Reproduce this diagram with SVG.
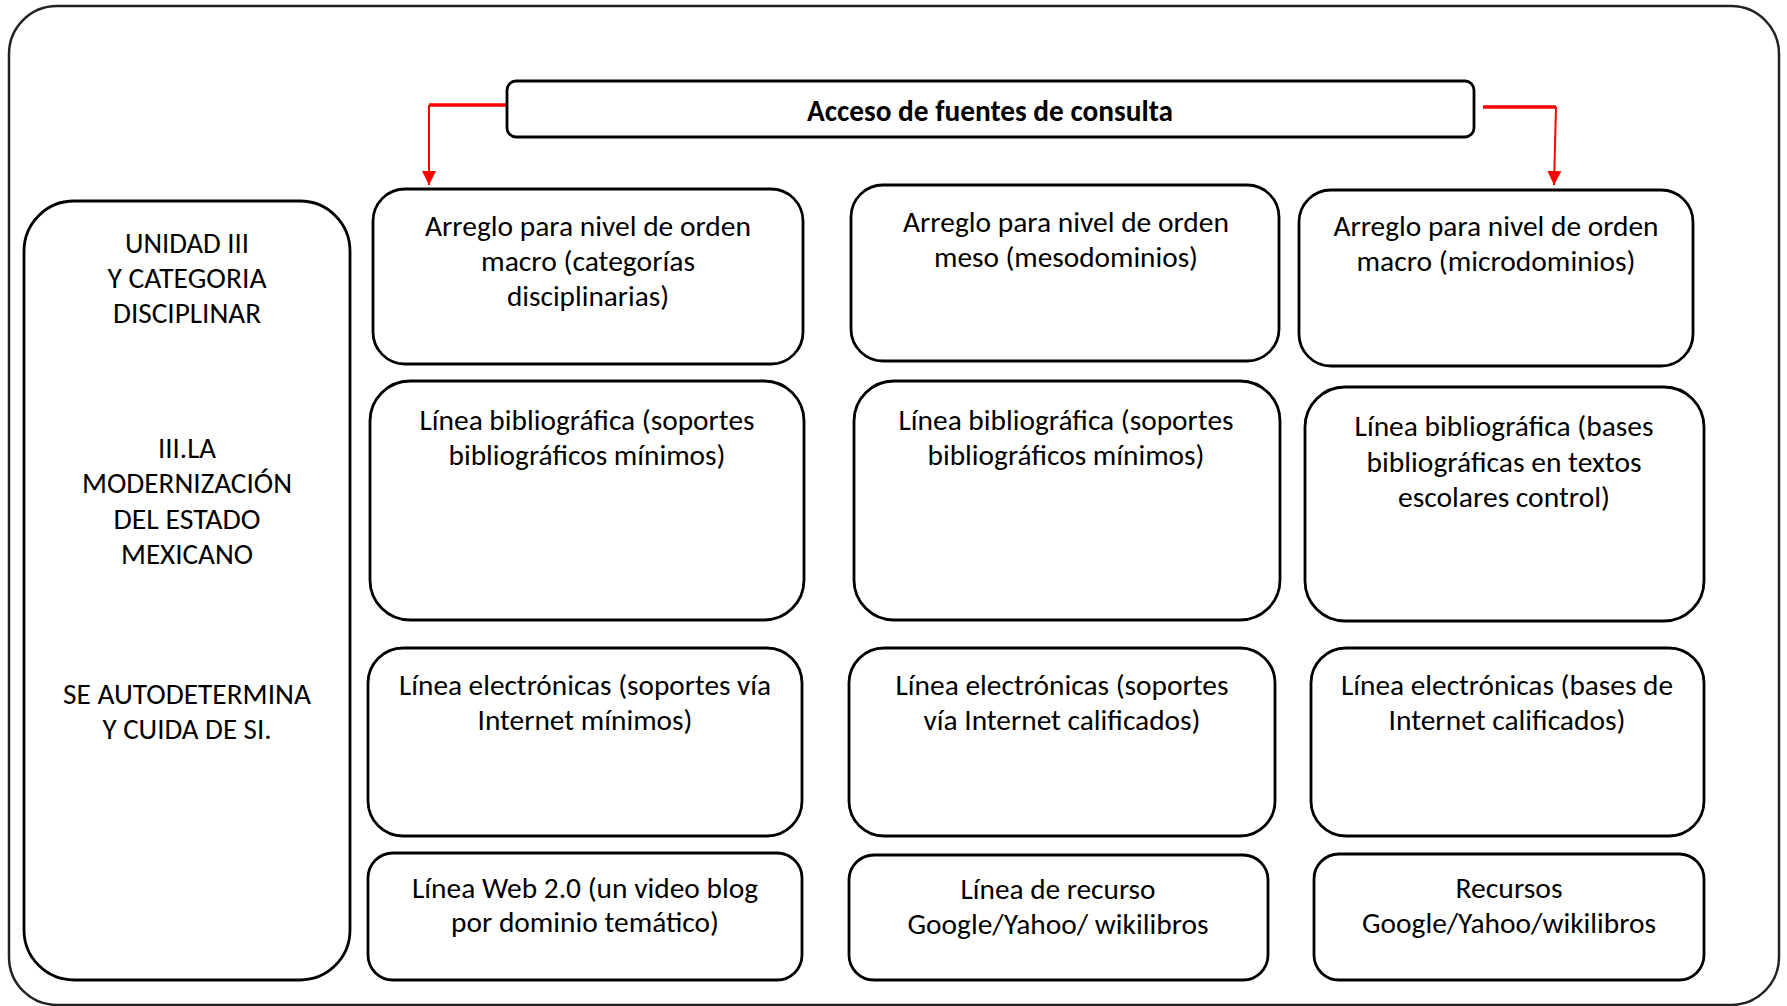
<svg xmlns="http://www.w3.org/2000/svg" width="1787" height="1006" viewBox="0 0 1787 1006">
<defs>
<style>
.box{fill:#fff;stroke:#000;stroke-width:2.8}
.t{font-family:"Carlito","Open Sans","Noto Sans",sans-serif;font-size:29.3px;fill:#000;text-anchor:middle}
.b{font-weight:bold}
.red{stroke:#ff0000;fill:none}
</style>
<marker id="ah" viewBox="0 0 10 10" refX="10" refY="5" markerWidth="7" markerHeight="7.5" markerUnits="strokeWidth" orient="auto">
<path d="M0,0 L10,5 L0,10 z" fill="#ff0000"/>
</marker>
</defs>
<rect x="0" y="0" width="1787" height="1006" fill="#fff"/>
<rect id="frame" x="9" y="6" width="1770" height="999" rx="48" fill="none" stroke="#222" stroke-width="2.5"/>

<g id="connectors">
<path class="red" d="M507,105 H429" stroke-width="3.6"/>
<path class="red" d="M429,105 V185" stroke-width="2" marker-end="url(#ah)"/>
<path class="red" d="M1483,107 H1556" stroke-width="3.6"/>
<path class="red" d="M1556,107 L1554,185" stroke-width="2" marker-end="url(#ah)"/>
</g>

<g id="title">
<rect class="box" x="507" y="81" width="967" height="56" rx="9"/>
<text class="t b" x="990" y="121" textLength="366" lengthAdjust="spacingAndGlyphs">Acceso de fuentes de consulta</text>
</g>

<g id="left">
<rect class="box" x="24" y="201" width="326" height="779" rx="50"/>
<text class="t" x="187" y="253" textLength="124" lengthAdjust="spacingAndGlyphs">UNIDAD III</text>
<text class="t" x="187" y="288" textLength="159" lengthAdjust="spacingAndGlyphs">Y CATEGORIA</text>
<text class="t" x="187" y="323" textLength="148" lengthAdjust="spacingAndGlyphs">DISCIPLINAR</text>
<text class="t" x="187" y="458" textLength="58" lengthAdjust="spacingAndGlyphs">III.LA</text>
<text class="t" x="187" y="493" textLength="210" lengthAdjust="spacingAndGlyphs">MODERNIZACIÓN</text>
<text class="t" x="187" y="529" textLength="147" lengthAdjust="spacingAndGlyphs">DEL ESTADO</text>
<text class="t" x="187" y="564" textLength="132" lengthAdjust="spacingAndGlyphs">MEXICANO</text>
<text class="t" x="187" y="704" textLength="248" lengthAdjust="spacingAndGlyphs">SE AUTODETERMINA</text>
<text class="t" x="187" y="739" textLength="169" lengthAdjust="spacingAndGlyphs">Y CUIDA DE SI.</text>
</g>

<g id="r1c1">
<rect class="box" x="373" y="189" width="430" height="175" rx="32"/>
<text class="t" x="588" y="236" textLength="326" lengthAdjust="spacingAndGlyphs">Arreglo para nivel de orden</text>
<text class="t" x="588" y="271" textLength="214" lengthAdjust="spacingAndGlyphs">macro (categorías</text>
<text class="t" x="588" y="306" textLength="162" lengthAdjust="spacingAndGlyphs">disciplinarias)</text>
</g>
<g id="r1c2">
<rect class="box" x="851" y="185" width="428" height="176" rx="32"/>
<text class="t" x="1066" y="232" textLength="326" lengthAdjust="spacingAndGlyphs">Arreglo para nivel de orden</text>
<text class="t" x="1066" y="267" textLength="264" lengthAdjust="spacingAndGlyphs">meso (mesodominios)</text>
</g>
<g id="r1c3">
<rect class="box" x="1299" y="190" width="394" height="176" rx="32"/>
<text class="t" x="1496" y="236" textLength="325" lengthAdjust="spacingAndGlyphs">Arreglo para nivel de orden</text>
<text class="t" x="1496" y="271" textLength="279" lengthAdjust="spacingAndGlyphs">macro (microdominios)</text>
</g>

<g id="r2c1">
<rect class="box" x="370" y="381" width="434" height="239" rx="40"/>
<text class="t" x="587" y="430" textLength="335" lengthAdjust="spacingAndGlyphs">Línea bibliográfica (soportes</text>
<text class="t" x="587" y="465" textLength="277" lengthAdjust="spacingAndGlyphs">bibliográficos mínimos)</text>
</g>
<g id="r2c2">
<rect class="box" x="854" y="381" width="426" height="239" rx="40"/>
<text class="t" x="1066" y="430" textLength="335" lengthAdjust="spacingAndGlyphs">Línea bibliográfica (soportes</text>
<text class="t" x="1066" y="465" textLength="277" lengthAdjust="spacingAndGlyphs">bibliográficos mínimos)</text>
</g>
<g id="r2c3">
<rect class="box" x="1305" y="387" width="399" height="234" rx="40"/>
<text class="t" x="1504" y="436" textLength="299" lengthAdjust="spacingAndGlyphs">Línea bibliográfica (bases</text>
<text class="t" x="1504" y="472" textLength="275" lengthAdjust="spacingAndGlyphs">bibliográficas en textos</text>
<text class="t" x="1504" y="507" textLength="212" lengthAdjust="spacingAndGlyphs">escolares control)</text>
</g>

<g id="r3c1">
<rect class="box" x="368" y="648" width="434" height="188" rx="35"/>
<text class="t" x="585" y="695" textLength="372" lengthAdjust="spacingAndGlyphs">Línea electrónicas (soportes vía</text>
<text class="t" x="585" y="730" textLength="215" lengthAdjust="spacingAndGlyphs">Internet mínimos)</text>
</g>
<g id="r3c2">
<rect class="box" x="849" y="648" width="426" height="188" rx="35"/>
<text class="t" x="1062" y="695" textLength="333" lengthAdjust="spacingAndGlyphs">Línea electrónicas (soportes</text>
<text class="t" x="1062" y="730" textLength="277" lengthAdjust="spacingAndGlyphs">vía Internet calificados)</text>
</g>
<g id="r3c3">
<rect class="box" x="1311" y="648" width="393" height="188" rx="35"/>
<text class="t" x="1507" y="695" textLength="332" lengthAdjust="spacingAndGlyphs">Línea electrónicas (bases de</text>
<text class="t" x="1507" y="730" textLength="237" lengthAdjust="spacingAndGlyphs">Internet calificados)</text>
</g>

<g id="r4c1">
<rect class="box" x="368" y="853" width="434" height="127" rx="25"/>
<text class="t" x="585" y="898" textLength="346" lengthAdjust="spacingAndGlyphs">Línea Web 2.0 (un video blog</text>
<text class="t" x="585" y="932" textLength="268" lengthAdjust="spacingAndGlyphs">por dominio temático)</text>
</g>
<g id="r4c2">
<rect class="box" x="849" y="855" width="419" height="125" rx="25"/>
<text class="t" x="1058" y="899" textLength="195" lengthAdjust="spacingAndGlyphs">Línea de recurso</text>
<text class="t" x="1058" y="934" textLength="301" lengthAdjust="spacingAndGlyphs">Google/Yahoo/ wikilibros</text>
</g>
<g id="r4c3">
<rect class="box" x="1314" y="854" width="390" height="126" rx="25"/>
<text class="t" x="1509" y="898" textLength="107" lengthAdjust="spacingAndGlyphs">Recursos</text>
<text class="t" x="1509" y="933" textLength="294" lengthAdjust="spacingAndGlyphs">Google/Yahoo/wikilibros</text>
</g>
</svg>
